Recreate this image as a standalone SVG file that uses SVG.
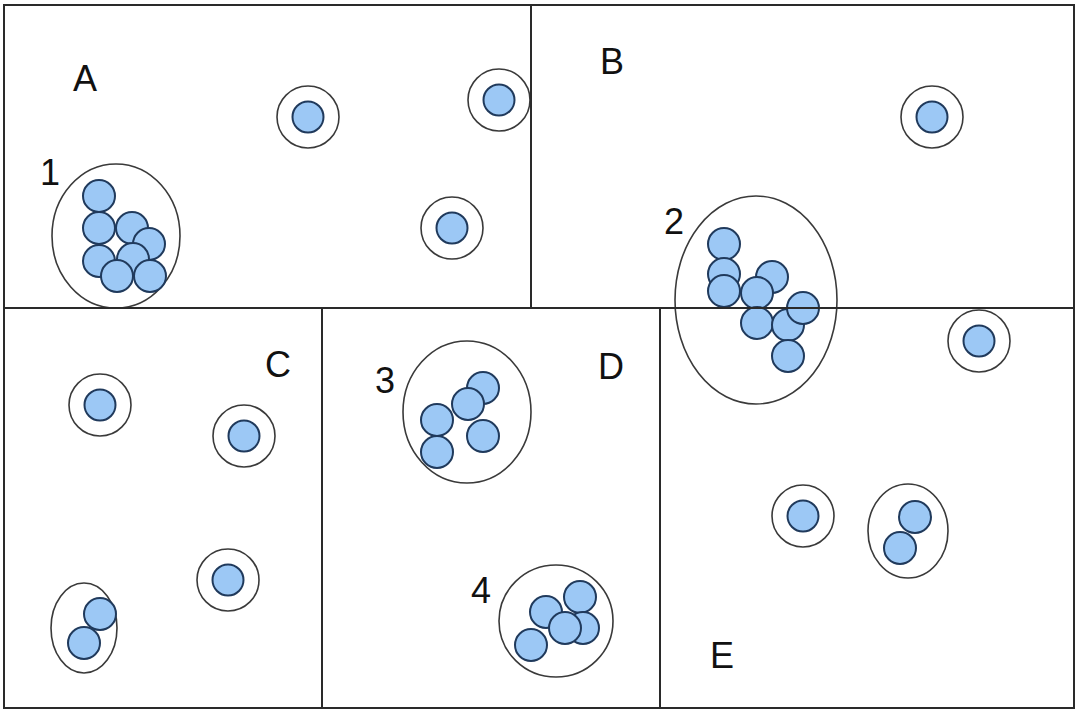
<svg xmlns="http://www.w3.org/2000/svg" width="1077" height="711" viewBox="0 0 1077 711">
  <style>
    .dot { fill: #9cc8f5; stroke: #203a5c; stroke-width: 2; }
    .ring { fill: none; stroke: #3a3a3a; stroke-width: 1.6; }
    .grid { fill: none; stroke: #2a2a2a; stroke-width: 2; }
    .lbl { font-family: "Liberation Sans", Arial, sans-serif; font-size: 36px; fill: #111; text-anchor: middle; }
  </style>
  <defs>
    <g id="single">
      <circle class="ring" r="31"/>
      <circle class="dot" r="15.5"/>
    </g>
  </defs>
  <rect width="1077" height="711" fill="#fff"/>

  <!-- clusters -->
  <g id="cluster1">
    <ellipse class="ring" cx="116" cy="236" rx="64" ry="72"/>
    <circle class="dot" cx="99" cy="196" r="16"/>
    <circle class="dot" cx="99" cy="228" r="16"/>
    <circle class="dot" cx="132" cy="228" r="16"/>
    <circle class="dot" cx="149" cy="244" r="16"/>
    <circle class="dot" cx="99" cy="261" r="16"/>
    <circle class="dot" cx="133" cy="259" r="16"/>
    <circle class="dot" cx="117" cy="276" r="16"/>
    <circle class="dot" cx="150" cy="276" r="16"/>
  </g>
  <g id="cluster2">
    <ellipse class="ring" cx="756" cy="300" rx="81" ry="104"/>
    <circle class="dot" cx="724" cy="244" r="16"/>
    <circle class="dot" cx="724" cy="274" r="16"/>
    <circle class="dot" cx="772" cy="277" r="16"/>
    <circle class="dot" cx="724" cy="291" r="16"/>
    <circle class="dot" cx="757" cy="293" r="16"/>
    <circle class="dot" cx="757" cy="323" r="16"/>
    <circle class="dot" cx="788" cy="325" r="16"/>
    <circle class="dot" cx="803" cy="308" r="16"/>
    <circle class="dot" cx="788" cy="356" r="16"/>
  </g>
  <g id="cluster3">
    <ellipse class="ring" cx="467" cy="412" rx="64" ry="71"/>
    <circle class="dot" cx="483" cy="388" r="16"/>
    <circle class="dot" cx="468" cy="404" r="16"/>
    <circle class="dot" cx="437" cy="420" r="16"/>
    <circle class="dot" cx="483" cy="436" r="16"/>
    <circle class="dot" cx="437" cy="452" r="16"/>
  </g>
  <g id="cluster4">
    <ellipse class="ring" cx="556" cy="621" rx="57" ry="56"/>
    <circle class="dot" cx="546" cy="612" r="16"/>
    <circle class="dot" cx="580" cy="597" r="16"/>
    <circle class="dot" cx="583" cy="628" r="16"/>
    <circle class="dot" cx="565" cy="628" r="16"/>
    <circle class="dot" cx="531" cy="645" r="16"/>
  </g>
  <g id="pairC">
    <ellipse class="ring" cx="84" cy="628" rx="33" ry="45"/>
    <circle class="dot" cx="100" cy="614" r="16"/>
    <circle class="dot" cx="84" cy="643" r="16"/>
  </g>
  <g id="pairE">
    <ellipse class="ring" cx="908" cy="531" rx="40" ry="47"/>
    <circle class="dot" cx="915" cy="517" r="16"/>
    <circle class="dot" cx="900" cy="548" r="16"/>
  </g>

  <!-- isolated points -->
  <g id="singleA1"><use href="#single" x="308" y="117"/></g>
  <g id="singleA2"><use href="#single" x="499" y="100"/></g>
  <g id="singleA3"><use href="#single" x="452" y="228"/></g>
  <g id="singleB1"><use href="#single" x="932" y="117"/></g>
  <g id="singleC1"><use href="#single" x="100" y="405"/></g>
  <g id="singleC2"><use href="#single" x="244" y="436"/></g>
  <g id="singleC3"><use href="#single" x="228" y="580"/></g>
  <g id="singleE1"><use href="#single" x="979" y="341"/></g>
  <g id="singleE2"><use href="#single" x="803" y="516"/></g>

  <!-- partition lines -->
  <g id="partitions">
    <rect class="grid" x="4" y="5" width="1070" height="703"/>
    <line class="grid" x1="4" y1="308" x2="1074" y2="308"/>
    <line class="grid" x1="531" y1="5" x2="531" y2="308"/>
    <line class="grid" x1="322" y1="308" x2="322" y2="708"/>
    <line class="grid" x1="660" y1="308" x2="660" y2="708"/>
  </g>

  <!-- labels -->
  <g id="labels">
    <text class="lbl" x="85" y="91">A</text>
    <text class="lbl" x="612" y="74">B</text>
    <text class="lbl" x="278" y="377">C</text>
    <text class="lbl" x="611" y="379">D</text>
    <text class="lbl" x="722" y="668">E</text>
    <text class="lbl" x="50" y="185">1</text>
    <text class="lbl" x="674" y="234">2</text>
    <text class="lbl" x="385" y="393">3</text>
    <text class="lbl" x="481" y="603">4</text>
  </g>
</svg>
